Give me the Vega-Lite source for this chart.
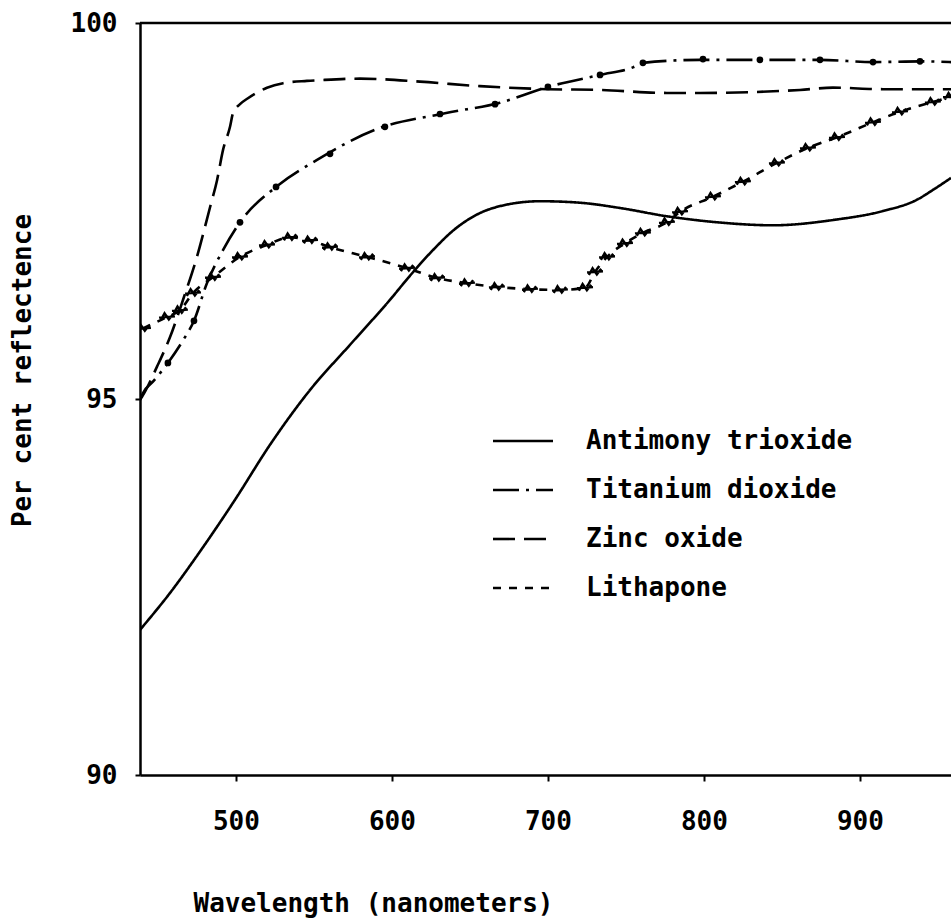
{
  "$schema": "https://vega.github.io/schema/vega-lite/v6.json",
  "width": 811,
  "height": 752,
  "autosize": {"type": "none"},
  "padding": {"left": 140, "top": 23, "right": 0, "bottom": 147},
  "background": "white",
  "config": {
    "view": {"stroke": null},
    "font": "DejaVu Sans Mono",
    "axis": {
      "grid": false,
      "domainColor": "black",
      "domainWidth": 2.5,
      "tickColor": "black",
      "tickWidth": 2,
      "labelColor": "black",
      "labelFont": "DejaVu Sans Mono",
      "labelFontSize": 26,
      "labelFontWeight": "bold",
      "titleFont": "DejaVu Sans Mono",
      "titleFontSize": 26,
      "titleFontWeight": "bold",
      "titleColor": "black"
    }
  },
  "datasets": {
    "curves": [
      {"series": "Antimony trioxide", "wavelength": 438.5, "reflectance": 91.93},
      {"series": "Antimony trioxide", "wavelength": 457.7, "reflectance": 92.42},
      {"series": "Antimony trioxide", "wavelength": 476.9, "reflectance": 92.97},
      {"series": "Antimony trioxide", "wavelength": 499.4, "reflectance": 93.66},
      {"series": "Antimony trioxide", "wavelength": 521.8, "reflectance": 94.39},
      {"series": "Antimony trioxide", "wavelength": 547.5, "reflectance": 95.12},
      {"series": "Antimony trioxide", "wavelength": 573.1, "reflectance": 95.72},
      {"series": "Antimony trioxide", "wavelength": 598.8, "reflectance": 96.32},
      {"series": "Antimony trioxide", "wavelength": 611.6, "reflectance": 96.64},
      {"series": "Antimony trioxide", "wavelength": 626.3, "reflectance": 96.98},
      {"series": "Antimony trioxide", "wavelength": 640.4, "reflectance": 97.26},
      {"series": "Antimony trioxide", "wavelength": 655.2, "reflectance": 97.46},
      {"series": "Antimony trioxide", "wavelength": 672.5, "reflectance": 97.58},
      {"series": "Antimony trioxide", "wavelength": 694.9, "reflectance": 97.63},
      {"series": "Antimony trioxide", "wavelength": 720.6, "reflectance": 97.61},
      {"series": "Antimony trioxide", "wavelength": 746.2, "reflectance": 97.54},
      {"series": "Antimony trioxide", "wavelength": 776.3, "reflectance": 97.43},
      {"series": "Antimony trioxide", "wavelength": 808.4, "reflectance": 97.35},
      {"series": "Antimony trioxide", "wavelength": 844.3, "reflectance": 97.31},
      {"series": "Antimony trioxide", "wavelength": 882.7, "reflectance": 97.38},
      {"series": "Antimony trioxide", "wavelength": 914.8, "reflectance": 97.5},
      {"series": "Antimony trioxide", "wavelength": 936.6, "reflectance": 97.65},
      {"series": "Antimony trioxide", "wavelength": 946.8, "reflectance": 97.78},
      {"series": "Antimony trioxide", "wavelength": 958.4, "reflectance": 97.94},

      {"series": "Titanium dioxide", "wavelength": 438.5, "reflectance": 94.99},
      {"series": "Titanium dioxide", "wavelength": 440.4, "reflectance": 95.08},
      {"series": "Titanium dioxide", "wavelength": 446.8, "reflectance": 95.23},
      {"series": "Titanium dioxide", "wavelength": 456.4, "reflectance": 95.48},
      {"series": "Titanium dioxide", "wavelength": 466.1, "reflectance": 95.78},
      {"series": "Titanium dioxide", "wavelength": 473.1, "reflectance": 96.04},
      {"series": "Titanium dioxide", "wavelength": 481.4, "reflectance": 96.54},
      {"series": "Titanium dioxide", "wavelength": 491.7, "reflectance": 96.98},
      {"series": "Titanium dioxide", "wavelength": 502.6, "reflectance": 97.35},
      {"series": "Titanium dioxide", "wavelength": 525.7, "reflectance": 97.82},
      {"series": "Titanium dioxide", "wavelength": 552.0, "reflectance": 98.18},
      {"series": "Titanium dioxide", "wavelength": 589.1, "reflectance": 98.58},
      {"series": "Titanium dioxide", "wavelength": 634.0, "reflectance": 98.8},
      {"series": "Titanium dioxide", "wavelength": 669.3, "reflectance": 98.94},
      {"series": "Titanium dioxide", "wavelength": 700.0, "reflectance": 99.15},
      {"series": "Titanium dioxide", "wavelength": 733.4, "reflectance": 99.31},
      {"series": "Titanium dioxide", "wavelength": 754.5, "reflectance": 99.41},
      {"series": "Titanium dioxide", "wavelength": 760.9, "reflectance": 99.47},
      {"series": "Titanium dioxide", "wavelength": 797.5, "reflectance": 99.51},
      {"series": "Titanium dioxide", "wavelength": 835.9, "reflectance": 99.51},
      {"series": "Titanium dioxide", "wavelength": 874.4, "reflectance": 99.51},
      {"series": "Titanium dioxide", "wavelength": 908.4, "reflectance": 99.48},
      {"series": "Titanium dioxide", "wavelength": 938.5, "reflectance": 99.49},
      {"series": "Titanium dioxide", "wavelength": 958.4, "reflectance": 99.48},

      {"series": "Zinc oxide", "wavelength": 438.5, "reflectance": 94.99},
      {"series": "Zinc oxide", "wavelength": 439.8, "reflectance": 95.03},
      {"series": "Zinc oxide", "wavelength": 449.4, "reflectance": 95.43},
      {"series": "Zinc oxide", "wavelength": 457.7, "reflectance": 95.82},
      {"series": "Zinc oxide", "wavelength": 466.1, "reflectance": 96.32},
      {"series": "Zinc oxide", "wavelength": 475.0, "reflectance": 96.89},
      {"series": "Zinc oxide", "wavelength": 483.4, "reflectance": 97.55},
      {"series": "Zinc oxide", "wavelength": 487.9, "reflectance": 97.91},
      {"series": "Zinc oxide", "wavelength": 491.7, "reflectance": 98.31},
      {"series": "Zinc oxide", "wavelength": 496.2, "reflectance": 98.62},
      {"series": "Zinc oxide", "wavelength": 498.1, "reflectance": 98.8},
      {"series": "Zinc oxide", "wavelength": 502.6, "reflectance": 98.92},
      {"series": "Zinc oxide", "wavelength": 507.7, "reflectance": 99.0},
      {"series": "Zinc oxide", "wavelength": 519.9, "reflectance": 99.14},
      {"series": "Zinc oxide", "wavelength": 530.2, "reflectance": 99.2},
      {"series": "Zinc oxide", "wavelength": 545.5, "reflectance": 99.23},
      {"series": "Zinc oxide", "wavelength": 553.9, "reflectance": 99.24},
      {"series": "Zinc oxide", "wavelength": 579.5, "reflectance": 99.26},
      {"series": "Zinc oxide", "wavelength": 618.0, "reflectance": 99.22},
      {"series": "Zinc oxide", "wavelength": 656.4, "reflectance": 99.16},
      {"series": "Zinc oxide", "wavelength": 699.4, "reflectance": 99.12},
      {"series": "Zinc oxide", "wavelength": 733.4, "reflectance": 99.11},
      {"series": "Zinc oxide", "wavelength": 776.3, "reflectance": 99.07},
      {"series": "Zinc oxide", "wavelength": 797.5, "reflectance": 99.07},
      {"series": "Zinc oxide", "wavelength": 829.5, "reflectance": 99.08},
      {"series": "Zinc oxide", "wavelength": 861.6, "reflectance": 99.11},
      {"series": "Zinc oxide", "wavelength": 882.7, "reflectance": 99.14},
      {"series": "Zinc oxide", "wavelength": 914.8, "reflectance": 99.12},
      {"series": "Zinc oxide", "wavelength": 958.4, "reflectance": 99.12},

      {"series": "Lithapone", "wavelength": 440.4, "reflectance": 95.94},
      {"series": "Lithapone", "wavelength": 455.8, "reflectance": 96.09},
      {"series": "Lithapone", "wavelength": 464.1, "reflectance": 96.18},
      {"series": "Lithapone", "wavelength": 472.5, "reflectance": 96.41},
      {"series": "Lithapone", "wavelength": 485.3, "reflectance": 96.62},
      {"series": "Lithapone", "wavelength": 502.6, "reflectance": 96.89},
      {"series": "Lithapone", "wavelength": 519.9, "reflectance": 97.05},
      {"series": "Lithapone", "wavelength": 534.7, "reflectance": 97.15},
      {"series": "Lithapone", "wavelength": 547.5, "reflectance": 97.11},
      {"series": "Lithapone", "wavelength": 560.3, "reflectance": 97.02},
      {"series": "Lithapone", "wavelength": 584.0, "reflectance": 96.89},
      {"series": "Lithapone", "wavelength": 609.7, "reflectance": 96.74},
      {"series": "Lithapone", "wavelength": 628.9, "reflectance": 96.61},
      {"series": "Lithapone", "wavelength": 648.1, "reflectance": 96.54},
      {"series": "Lithapone", "wavelength": 667.3, "reflectance": 96.49},
      {"series": "Lithapone", "wavelength": 688.5, "reflectance": 96.46},
      {"series": "Lithapone", "wavelength": 707.7, "reflectance": 96.45},
      {"series": "Lithapone", "wavelength": 723.8, "reflectance": 96.48},
      {"series": "Lithapone", "wavelength": 730.2, "reflectance": 96.69},
      {"series": "Lithapone", "wavelength": 737.9, "reflectance": 96.89},
      {"series": "Lithapone", "wavelength": 749.4, "reflectance": 97.07},
      {"series": "Lithapone", "wavelength": 760.9, "reflectance": 97.21},
      {"series": "Lithapone", "wavelength": 776.3, "reflectance": 97.35},
      {"series": "Lithapone", "wavelength": 784.7, "reflectance": 97.49},
      {"series": "Lithapone", "wavelength": 805.8, "reflectance": 97.69},
      {"series": "Lithapone", "wavelength": 825.0, "reflectance": 97.89},
      {"series": "Lithapone", "wavelength": 846.8, "reflectance": 98.14},
      {"series": "Lithapone", "wavelength": 866.7, "reflectance": 98.34},
      {"series": "Lithapone", "wavelength": 885.3, "reflectance": 98.48},
      {"series": "Lithapone", "wavelength": 908.4, "reflectance": 98.68},
      {"series": "Lithapone", "wavelength": 925.7, "reflectance": 98.82},
      {"series": "Lithapone", "wavelength": 946.8, "reflectance": 98.95},
      {"series": "Lithapone", "wavelength": 958.4, "reflectance": 99.02}
    ],
    "dots": [
      {"wavelength": 456.4, "reflectance": 95.48},
      {"wavelength": 473.1, "reflectance": 96.04},
      {"wavelength": 502.6, "reflectance": 97.35},
      {"wavelength": 525.7, "reflectance": 97.82},
      {"wavelength": 560.3, "reflectance": 98.26},
      {"wavelength": 595.5, "reflectance": 98.62},
      {"wavelength": 630.8, "reflectance": 98.79},
      {"wavelength": 666.1, "reflectance": 98.92},
      {"wavelength": 700.0, "reflectance": 99.15},
      {"wavelength": 733.4, "reflectance": 99.31},
      {"wavelength": 760.9, "reflectance": 99.47},
      {"wavelength": 799.4, "reflectance": 99.52},
      {"wavelength": 835.9, "reflectance": 99.51},
      {"wavelength": 874.4, "reflectance": 99.51},
      {"wavelength": 908.4, "reflectance": 99.48},
      {"wavelength": 938.5, "reflectance": 99.49}
    ],
    "frame": [{"edge": "top"}]
  },
  "layer": [
    {
      "data": {"name": "curves"},
      "mark": {"type": "line", "strokeWidth": 2.6, "color": "black", "clip": true, "interpolate": "monotone"},
      "encoding": {
        "x": {
          "field": "wavelength", "type": "quantitative",
          "scale": {"domain": [438.5, 958.4], "nice": false, "zero": false},
          "axis": {
            "values": [500, 600, 700, 800, 900], "format": "d",
            "tickSize": 6, "labelPadding": 27,
            "title": "Wavelength (nanometers)",
            "titleX": 233, "titleY": 128, "titleAlign": "center", "titleBaseline": "middle"
          }
        },
        "y": {
          "field": "reflectance", "type": "quantitative",
          "scale": {"domain": [90, 100], "nice": false, "zero": false},
          "axis": {
            "values": [90, 95, 100], "format": "d",
            "tickSize": 5, "labelPadding": 18,
            "title": "Per cent reflectence",
            "titleX": -118, "titleY": 347, "titleAlign": "center", "titleBaseline": "middle", "titleAngle": 270
          }
        },
        "strokeDash": {
          "field": "series", "type": "nominal",
          "scale": {
            "domain": ["Antimony trioxide", "Titanium dioxide", "Zinc oxide", "Lithapone"],
            "range": [[1, 0], [26, 7, 3, 7], [22, 9], [8, 8]]
          },
          "legend": {
            "orient": "none", "legendX": 370, "legendY": 405, "title": null, "padding": 0,
            "symbolType": "M-3,0H3", "symbolSize": 400, "symbolStrokeWidth": 2.6,
            "symbolStrokeColor": "black", "symbolFillColor": "transparent",
            "labelFont": "DejaVu Sans Mono", "labelFontSize": 26, "labelFontWeight": "bold", "labelColor": "black",
            "labelOffset": 50, "rowPadding": 23, "labelLimit": 0
          }
        }
      }
    },
    {
      "data": {"name": "curves"},
      "transform": [{"filter": "datum.series === 'Lithapone'"}],
      "mark": {
        "type": "point", "shape": "M-1,0.5L-0.4,-0.6L0.3,0.4L1,-0.5M-1.3,0.1L1.3,-0.1",
        "size": 150, "strokeWidth": 2.4, "color": "black", "filled": false, "opacity": 1, "clip": true
      },
      "encoding": {
        "x": {"field": "wavelength", "type": "quantitative"},
        "y": {"field": "reflectance", "type": "quantitative"}
      }
    },
    {
      "data": {"name": "dots"},
      "mark": {"type": "circle", "size": 45, "color": "black", "opacity": 1, "clip": true},
      "encoding": {
        "x": {"field": "wavelength", "type": "quantitative"},
        "y": {"field": "reflectance", "type": "quantitative"}
      }
    },
    {
      "data": {"name": "frame"},
      "mark": {"type": "rule", "strokeWidth": 2.5, "color": "black"},
      "encoding": {"y": {"datum": 100}}
    }
  ]
}
